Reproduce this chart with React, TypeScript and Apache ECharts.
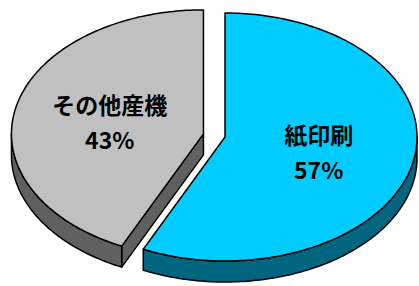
import React, { useEffect, useRef } from "react";
import * as echarts from "echarts";

const categories = ["紙印刷", "その他産機"];
const values = [57, 43];
const topColors = ["#00CCFF", "#C0C0C0"];
const sideColors = ["#006680", "#606060"];
const explode = [0, 0.115];

export default function App() {
  const ref = useRef<HTMLDivElement>(null);
  useEffect(() => {
    document.body.style.margin = "0";
    const chart = echarts.init(ref.current!, null, { renderer: "svg" });
    const total = values.reduce((a, b) => a + b, 0);
    const cx = 225, cy = 137, rx = 192, ry = 124, depth = 21;
    const rad = Math.PI / 180;

    const renderItem = (params: any, api: any) => {
      const i = params.dataIndex;
      const v = api.value(0);
      let before = 0;
      for (let k = 0; k < i; k++) before += values[k];
      const a0 = (before / total) * 360;
      const a1 = ((before + v) / total) * 360;
      const mid = (a0 + a1) / 2;
      const e = explode[i];
      const ox = cx + e * rx * Math.sin(mid * rad);
      const oy = cy - e * ry * Math.cos(mid * rad);
      const P = (a: number, dz: number) => [
        ox + rx * Math.sin(a * rad),
        oy - ry * Math.cos(a * rad) + dz,
      ];
      const arc = (s: number, t: number, dz: number) => {
        const pts: number[][] = [];
        const n = Math.max(2, Math.ceil(Math.abs(t - s)));
        for (let j = 0; j <= n; j++) pts.push(P(s + ((t - s) * j) / n, dz));
        return pts;
      };
      const stroke = { stroke: "#000", lineWidth: 1.5, lineJoin: "round" };
      const children: any[] = [];
      if (Math.sin(a0 * rad) < -1e-6) {
        children.push({
          type: "polygon",
          shape: { points: [[ox, oy], P(a0, 0), P(a0, depth), [ox, oy + depth]] },
          style: { fill: sideColors[i], ...stroke },
        });
      }
      if (Math.sin(a1 * rad) > 1e-6) {
        children.push({
          type: "polygon",
          shape: { points: [[ox, oy], P(a1, 0), P(a1, depth), [ox, oy + depth]] },
          style: { fill: sideColors[i], ...stroke },
        });
      }
      const ws = Math.max(a0, 90), we = Math.min(a1, 270);
      if (we > ws) {
        const top = arc(ws, we, 0);
        const bot = arc(ws, we, depth).reverse();
        children.push({
          type: "polygon",
          shape: { points: top.concat(bot) },
          style: { fill: sideColors[i], ...stroke },
        });
      }
      children.push({
        type: "polygon",
        shape: { points: [[ox, oy]].concat(arc(a0, a1, 0)) },
        style: { fill: topColors[i], ...stroke },
      });
      const lp = [ox + 0.5 * rx * Math.sin(mid * rad), oy - 0.5 * ry * Math.cos(mid * rad) + 1];
      children.push({
        type: "text",
        style: {
          text: categories[i] + "\n" + Math.round((v / total) * 100) + "%",
          x: lp[0],
          y: lp[1],
          align: "center",
          verticalAlign: "middle",
          fill: "#000",
          font: 'bold 23px "Noto Sans CJK JP"',
          lineHeight: 35,
        },
      });
      return { type: "group", children };
    };

    chart.setOption({
      animation: false,
      backgroundColor: "#fff",
      series: [
        {
          type: "custom",
          coordinateSystem: "none",
          renderItem,
          data: values.map((v, i) => ({ value: [v], name: categories[i] })),
        },
      ],
    });
    return () => chart.dispose();
  }, []);
  return <div ref={ref} style={{ width: 419, height: 286 }} />;
}
